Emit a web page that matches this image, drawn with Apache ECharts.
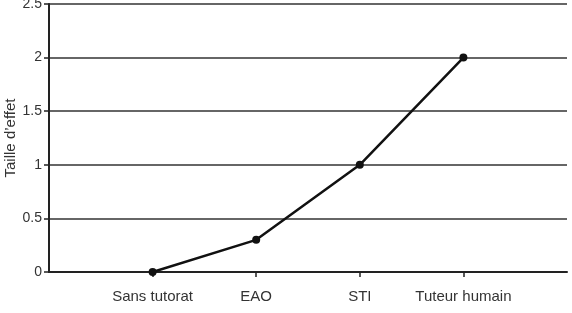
<!DOCTYPE html>
<html>
<head>
<meta charset="utf-8">
<script src="https://cdn.jsdelivr.net/npm/echarts@6/dist/echarts.min.js"></script>
<style>
html,body{margin:0;padding:0;background:#fff;}
#c{width:572px;height:313px;}
</style>
</head>
<body>
<div id="c"></div>
<script>
var categories = ['', 'Sans tutorat', 'EAO', 'STI', 'Tuteur humain', ''];
var values = [null, 0, 0.3, 1, 2, null];
var yTicks = [0, 0.5, 1, 1.5, 2, 2.5];

var chart = echarts.init(document.getElementById('c'));
chart.setOption({
  animation: false,
  grid: {left: 49, right: 5, top: 4, bottom: 41, containLabel: false, outerBoundsMode: 'none'},
  xAxis: {
    type: 'category',
    data: categories,
    boundaryGap: false,
    axisLine: {lineStyle: {color: '#222', width: 2}},
    axisTick: {
      length: 5,
      lineStyle: {color: '#222', width: 1.5},
      interval: function (i) { return i >= 1 && i <= 4; }
    },
    axisLabel: {
      interval: 0,
      margin: 17,
      color: '#333',
      fontFamily: 'Liberation Sans, Arial, sans-serif',
      fontSize: 15
    },
    splitLine: {show: false}
  },
  yAxis: {
    type: 'value',
    min: 0,
    max: 2.5,
    interval: 0.5,
    name: 'Taille d\u2019effet',
    nameLocation: 'middle',
    nameGap: 31,
    nameMoveOverlap: false,
    nameTextStyle: {color: '#333', fontFamily: 'Liberation Sans, Arial, sans-serif', fontSize: 15},
    axisLine: {show: true, lineStyle: {color: '#222', width: 2}},
    axisTick: {show: true, length: 5, lineStyle: {color: '#222', width: 1.5}},
    axisLabel: {
      color: '#333',
      margin: 7,
      fontFamily: 'Liberation Sans, Arial, sans-serif',
      fontSize: 14,
      formatter: function (v) { return String(v); }
    },
    splitLine: {lineStyle: {color: '#666', width: 2}}
  },
  series: [{
    type: 'line',
    data: values,
    symbol: 'circle',
    symbolSize: 8,
    lineStyle: {color: '#111', width: 2.5},
    itemStyle: {color: '#111'},
    connectNulls: false
  }]
});
</script>
</body>
</html>
